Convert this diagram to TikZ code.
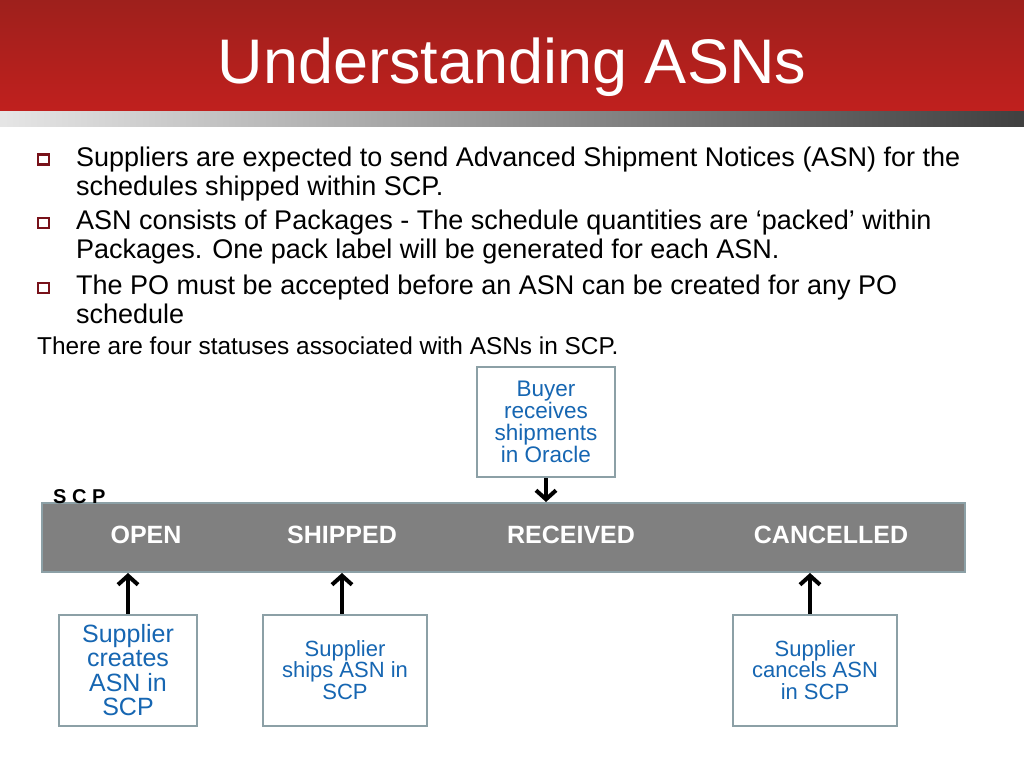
\documentclass[tikz,border=0pt]{standalone}
\usepackage{fontspec}
\setmainfont{Liberation Sans}
\usepackage{xcolor}
\usetikzlibrary{arrows.meta,positioning,calc}

\definecolor{bandtop}{RGB}{158,32,28}
\definecolor{bandbot}{RGB}{192,32,30}
\definecolor{bulletred}{RGB}{120,18,26}
\definecolor{boxgray}{RGB}{140,160,166}
\definecolor{bargray}{RGB}{128,128,128}
\definecolor{boxblue}{RGB}{22,102,178}

\tikzset{
  bodytext/.style={anchor=base west, align=left, inner sep=0, font=\fontsize{27}{28.8}\selectfont},
  bulletbox/.style={draw=bulletred, line width=2.6pt, fill=white, minimum width=11pt, minimum height=10pt, inner sep=0},
  status/.style={text=white, inner sep=0, font=\bfseries\fontsize{25}{25}\selectfont},
  eventbox/.style={draw=boxgray, line width=2pt, fill=white, align=center, text=boxblue,
    minimum height=111pt, inner sep=0},
  flow/.style={line width=4pt, -{Straight Barb[length=9pt,width=20pt,line width=4pt]}}
}

\begin{document}
\begin{tikzpicture}[x=1pt,y=-1pt]
  \useasboundingbox (0,0) rectangle (1024,768);
  \fill[white] (0,0) rectangle (1024,768);
  % header
  \shade[top color=bandtop, bottom color=bandbot] (0,0) rectangle (1024,111);
  \shade[left color=black!10, right color=black!75] (0,111) rectangle (1024,126);
  \node[anchor=base, text=white, inner sep=0, font=\fontsize{63}{63}\selectfont] (title) at (512,83) {Understanding ASNs};
  % bullets
  \node[bulletbox] (b1) at (43.5,159.5) {};
  \node[bulletbox] (b2) at (43.5,223) {};
  \node[bulletbox] (b3) at (43.5,288) {};
  \node[bodytext] (t1) at (76,195) {Suppliers are expected to send Advanced Shipment Notices (ASN) for the\\schedules shipped within SCP.};
  \node[bodytext] (t2) at (76,258) {ASN consists of Packages - The schedule quantities are ‘packed’ within\\Packages. One pack label will be generated for each ASN.};
  \node[bodytext] (t3) at (76,323) {The PO must be accepted before an ASN can be created for any PO\\schedule};
  \node[bodytext, font=\fontsize{24.4}{26}\selectfont] (t4) at (37,354) {There are four statuses associated with ASNs in SCP.};
  % status bar
  \node[draw=boxgray, line width=2pt, fill=bargray, minimum width=923pt, minimum height=69pt] (bar) at (503.5,537.5) {};
  \node[anchor=base west, inner sep=0, font=\bfseries\fontsize{20}{20}\selectfont] (scp) at (53,503) {S C P};
  \node[status] (open) at (146,535) {OPEN};
  \node[status] (shipped) at (342,535) {SHIPPED};
  \node[status] (received) at (571,535) {RECEIVED};
  \node[status] (cancelled) at (831,535) {CANCELLED};
  % events
  \node[eventbox, minimum width=138pt, minimum height=110pt, font=\fontsize{22.5}{21.8}\selectfont] (buyer) at (546,422) {Buyer\\receives\\shipments\\in Oracle};
  \node[eventbox, minimum width=138pt, font=\fontsize{25}{24.5}\selectfont] (create) at (128,670) {Supplier\\creates\\ASN in\\SCP};
  \node[eventbox, minimum width=164pt, font=\fontsize{22}{21.5}\selectfont] (ship) at (345,670) {Supplier\\ships ASN in\\SCP};
  \node[eventbox, minimum width=164pt, font=\fontsize{22}{21.5}\selectfont] (cancel) at (815,670) {Supplier\\cancels ASN\\in SCP};
  \draw[flow] (buyer.south) -- (buyer.south |- bar.north);
  \draw[flow] (create.north) -- (create.north |- bar.south);
  \draw[flow] ([xshift=-3pt]ship.north) -- ([xshift=-3pt]ship.north |- bar.south);
  \draw[flow] ([xshift=-5pt]cancel.north) -- ([xshift=-5pt]cancel.north |- bar.south);
\end{tikzpicture}
\end{document}
